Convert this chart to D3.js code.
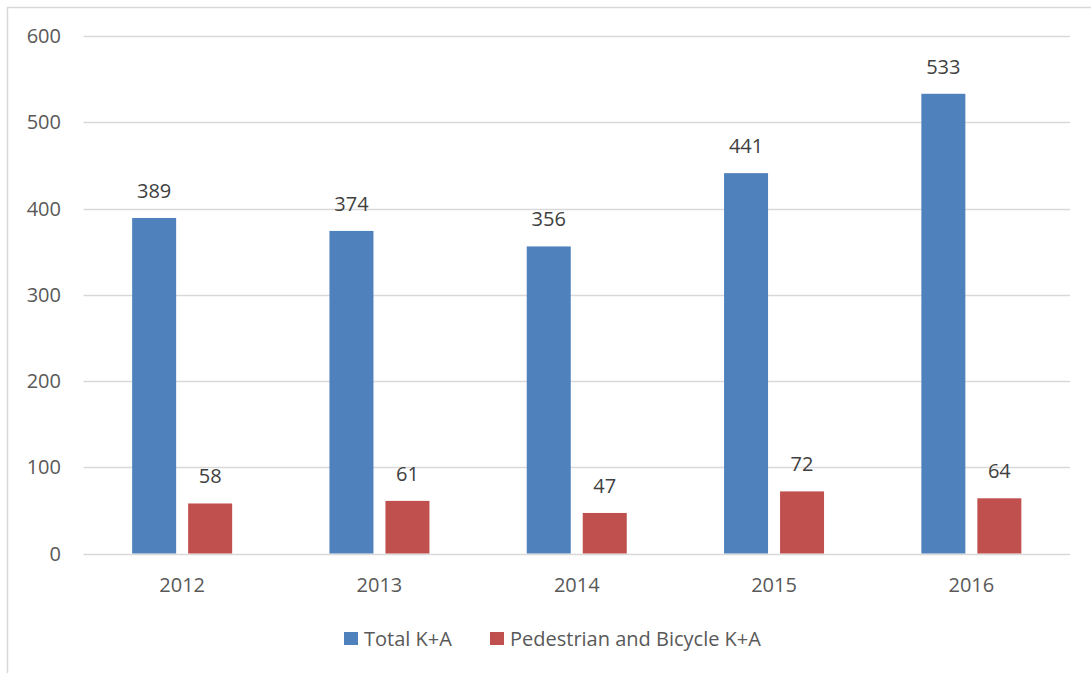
<!DOCTYPE html>
<meta charset="utf-8">
<style>
body { margin: 0; padding: 0; background: #fff; }
text { font-family: 'Open Sans', sans-serif; fill: #595959; }
</style>
<svg width="1091" height="673"></svg>
<script src="https://d3js.org/d3.v7.min.js"></script>
<script>
// chart data
var years = ["2012", "2013", "2014", "2015", "2016"];
var totalKA = [389, 374, 356, 441, 533];
var pedBikeKA = [58, 61, 47, 72, 64];
var seriesNames = ["Total K+A", "Pedestrian and Bicycle K+A"];
var seriesColors = ["#4F81BD", "#C0504D"];
var yTicks = [0, 100, 200, 300, 400, 500, 600];

var svg = d3.select("svg"),
    plotLeft = 83.5, plotRight = 1070, plotTop = 36, plotBottom = 553.5;

// outer chart border (cut off at right/bottom like the reference)
svg.append("path")
    .attr("d", "M7.5,673V7.5H1091")
    .attr("fill", "none")
    .attr("stroke", "#D9D9D9")
    .attr("stroke-width", 1.5);

var x = d3.scaleBand().domain(years).range([plotLeft, plotRight]);
var y = d3.scaleLinear().domain([0, 600]).range([plotBottom, plotTop]);

// gridlines
svg.append("g").selectAll("line")
    .data(yTicks)
    .enter().append("line")
      .attr("x1", plotLeft).attr("x2", plotRight)
      .attr("y1", function(d) { return Math.round(y(d)) + 0.5; })
      .attr("y2", function(d) { return Math.round(y(d)) + 0.5; })
      .attr("stroke", "#D9D9D9")
      .attr("stroke-width", 1.3);

// y tick labels
svg.append("g").selectAll("text")
    .data(yTicks)
    .enter().append("text")
      .attr("x", 61)
      .attr("y", function(d) { return y(d); })
      .attr("dy", "0.36em")
      .attr("text-anchor", "end")
      .style("font-size", "20px")
      .text(function(d) { return d; });

// bars
var barW = 44, gap = 12;
var series = [totalKA, pedBikeKA];
series.forEach(function(vals, si) {
    var g = svg.append("g");
    var offset = si === 0 ? -(gap / 2 + barW) : gap / 2;
    g.selectAll("rect")
      .data(vals)
      .enter().append("rect")
        .attr("x", function(d, i) { return x(years[i]) + x.bandwidth() / 2 + offset; })
        .attr("y", function(d) { return y(d); })
        .attr("width", barW)
        .attr("height", function(d) { return y(0) - y(d); })
        .attr("fill", seriesColors[si]);
    g.selectAll("text")
      .data(vals)
      .enter().append("text")
        .attr("x", function(d, i) { return x(years[i]) + x.bandwidth() / 2 + offset + barW / 2; })
        .attr("y", function(d) { return y(d) - 20; })
        .attr("text-anchor", "middle")
        .style("font-size", "20px")
        .style("fill", "#404040")
        .text(function(d) { return d; });
});

// x labels
svg.append("g").selectAll("text")
    .data(years)
    .enter().append("text")
      .attr("x", function(d) { return x(d) + x.bandwidth() / 2; })
      .attr("y", 592)
      .attr("text-anchor", "middle")
      .style("font-size", "20px")
      .text(function(d) { return d; });

// legend
var legendX = [344, 490];
seriesNames.forEach(function(name, i) {
    svg.append("rect")
      .attr("x", legendX[i]).attr("y", 632)
      .attr("width", 14).attr("height", 13)
      .attr("fill", seriesColors[i]);
    svg.append("text")
      .attr("x", legendX[i] + 20).attr("y", 638.5)
      .attr("dy", "0.36em")
      .style("font-size", "20px")
      .text(name);
});
</script>
